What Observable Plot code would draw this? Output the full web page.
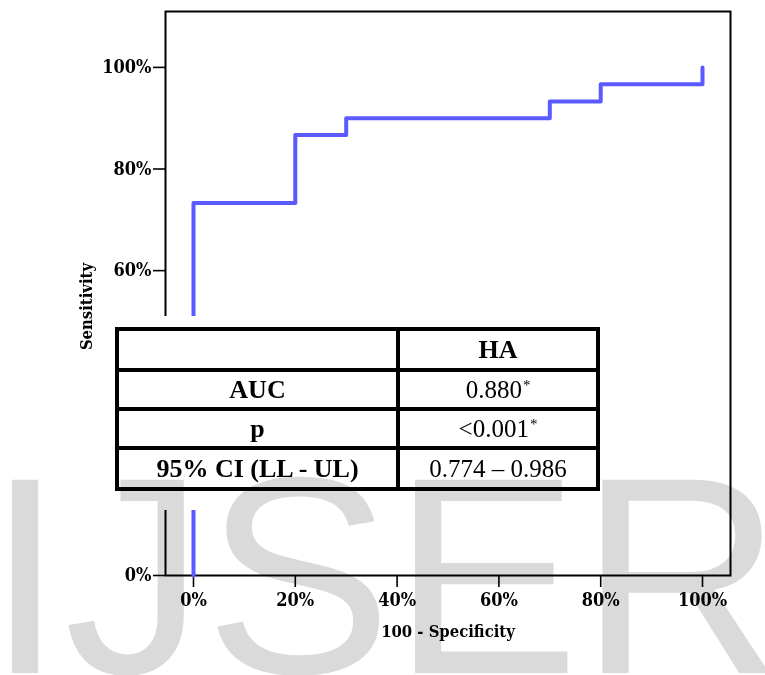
<!DOCTYPE html>
<html>
<head>
<meta charset="utf-8">
<script src="https://cdn.jsdelivr.net/npm/d3@7"></script>
<script src="https://cdn.jsdelivr.net/npm/@observablehq/plot@0.6"></script>
<style>
  html, body { margin: 0; padding: 0; background: #fff; }
  #wrap { position: relative; width: 765px; height: 675px; overflow: hidden; }
  #chart { position: absolute; left: 0; top: 0; }
  #pad { position: absolute; left: 98px; top: 316px; width: 502px; height: 194px; background: #fff; }
  #tbl { position: absolute; left: 115px; top: 327px; width: 477px; height: 156px;
         background: #000; padding: 4px; display: grid; gap: 4px;
         grid-template-columns: 277px 196px; grid-template-rows: 37px 35px 35px 37px; }
  #tbl div { background: #fff; display: flex; align-items: center; justify-content: center;
             font-family: "Liberation Serif", "Times New Roman", serif; font-size: 25px; color: #000; }
  #tbl div.b { font-weight: bold; font-size: 26px; }
  #tbl sup { font-size: 15px; position: relative; top: -4px; margin-left: 1px; }
  #wm { position: absolute; left: 0; top: 0; mix-blend-mode: multiply; pointer-events: none; }
</style>
</head>
<body>
<div id="wrap">
  <div id="chart"></div>
  <div id="pad"></div>
  <div id="tbl"></div>
  <svg id="wm" width="765" height="675"><text x="-14" y="673" font-family="Liberation Sans, Arial, sans-serif" font-size="281" fill="#dadada">IJSER</text></svg>
</div>
<script>
// ROC curve corner points (100 - Specificity, Sensitivity), in %
const fpr = [0, 0, 20, 30, 70, 80, 100];
const tpr = [0, 73.3, 86.7, 90, 93.3, 96.7, 100];
const xTicks = [0, 20, 40, 60, 80, 100];
const yTicks = [0, 20, 40, 60, 80, 100];
const xLabel = "100 - Specificity";
const yLabel = "Sensitivity";
// Table content
const tableHeader = ["", "HA"];
const rowLabels = ["AUC", "p", "95% CI (LL - UL)"];
const rowValues = ["0.880", "<0.001", "0.774 – 0.986"];
const rowStar = [true, true, false];

const fontFam = "'DejaVu Serif Condensed', 'DejaVu Serif', serif";

const chart = Plot.plot({
  width: 765, height: 675,
  marginLeft: 165, marginRight: 35, marginTop: 11, marginBottom: 100,
  x: {domain: [-5.5, 105.5]},
  y: {domain: [0, 111]},
  style: {background: "transparent", color: "#000", fontFamily: fontFam, fontWeight: "bold", fontSize: "18px", fontStretch: "condensed"},
  marks: [
    Plot.axisX({ticks: xTicks, tickFormat: d => d + "%", tickSize: 12, tickPadding: 6, label: null, strokeWidth: 1.6, fontSize: 18}),
    Plot.axisY({ticks: yTicks, tickFormat: d => d + "%", tickSize: 12, tickPadding: 2, label: null, strokeWidth: 1.6, fontSize: 18}),
    Plot.frame({stroke: "#000", strokeWidth: 2}),
    Plot.line(d3.range(fpr.length), {x: i => fpr[i], y: i => tpr[i], curve: "step-after", stroke: "#5a5aff", strokeWidth: 4}),
    Plot.text([xLabel], {frameAnchor: "bottom", dy: 56, lineAnchor: "middle", textAnchor: "middle", text: d => d, fontSize: 16.5, fontWeight: "bold"}),
    Plot.text([yLabel], {frameAnchor: "left", dx: -79, dy: 13, rotate: -90, lineAnchor: "middle", textAnchor: "middle", text: d => d, fontSize: 16.5, fontWeight: "bold"})
  ]
});
document.getElementById("chart").appendChild(chart);

const tbl = document.getElementById("tbl");
function cell(html, bold) {
  const d = document.createElement("div");
  if (bold) d.className = "b";
  d.innerHTML = html;
  tbl.appendChild(d);
}
cell(tableHeader[0], true);
cell(tableHeader[1], true);
rowLabels.forEach((lab, i) => {
  cell(lab, true);
  const v = rowValues[i].replace("<", "&lt;");
  cell(v + (rowStar[i] ? "<sup>*</sup>" : ""), false);
});
</script>
</body>
</html>
